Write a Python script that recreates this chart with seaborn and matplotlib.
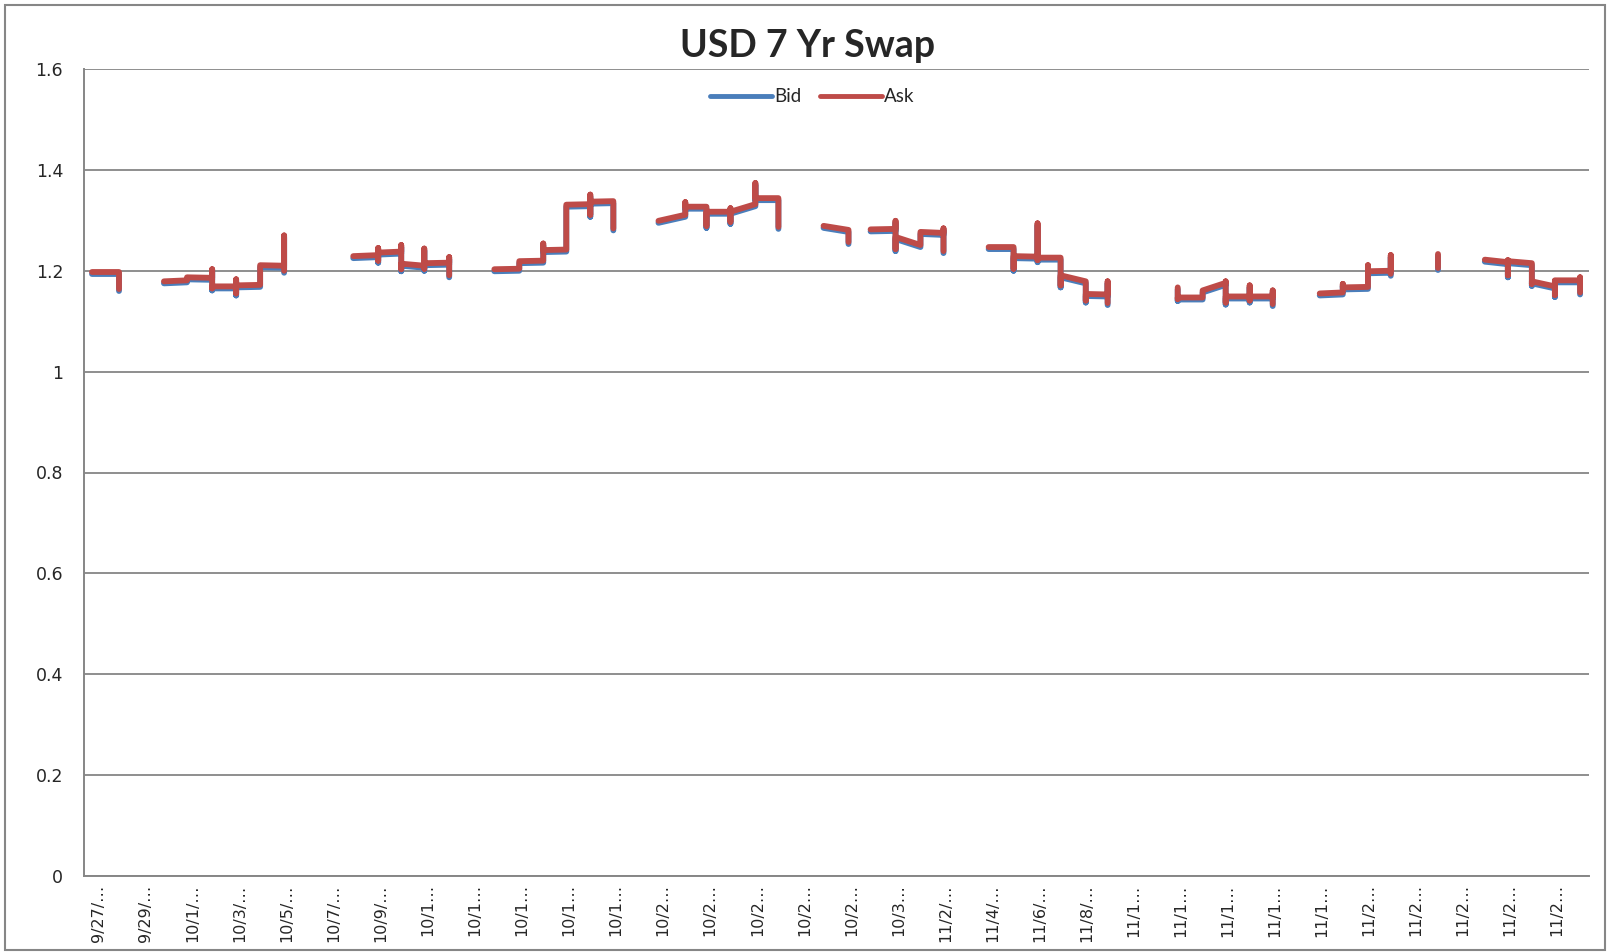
import numpy as np
import pandas as pd
import matplotlib
matplotlib.use("Agg")
import matplotlib.pyplot as plt
import seaborn as sns
from matplotlib.lines import Line2D
from matplotlib.patches import Rectangle

# ---------------- data ----------------
title = "USD 7 Yr Swap"
series_names = ["Bid", "Ask"]

x_tick_labels = ["9/27/…", "9/29/…", "10/1/…", "10/3/…", "10/5/…", "10/7/…", "10/9/…",
                 "10/1…", "10/1…", "10/1…", "10/1…", "10/1…",
                 "10/2…", "10/2…", "10/2…", "10/2…", "10/2…",
                 "10/3…", "11/2/…", "11/4/…", "11/6/…", "11/8/…",
                 "11/1…", "11/1…", "11/1…", "11/1…", "11/1…",
                 "11/2…", "11/2…", "11/2…", "11/2…", "11/2…"]
y_ticks = [0, 0.2, 0.4, 0.6, 0.8, 1.0, 1.2, 1.4, 1.6]
y_tick_labels = ["0", "0.2", "0.4", "0.6", "0.8", "1", "1.2", "1.4", "1.6"]

nan = np.nan
# position along the axis, in days from the first category (NaN = gap in the data)
day = [0.34, 1.49, 1.49, nan,
       3.40, 4.38, 4.38, 5.45, 5.45, 5.45, 5.45, 6.47, 6.47, 6.47, 6.47, 7.49, 7.49, 8.51, 8.51, 8.51, nan,
       11.45, 12.51, 12.51, 12.51, 12.51, 13.49, 13.49, 13.49, 13.49, 14.47, 14.47, 14.47, 14.47, 15.53, 15.53, 15.53, nan,
       17.45, 18.51, 18.51, 19.53, 19.53, 19.53, 20.51, 20.51, 21.53, 21.53, 21.53, 21.53, 22.51, 22.51, nan,
       24.43, 25.57, 25.57, 25.57, 26.47, 26.47, 26.47, 27.49, 27.49, 27.49, 27.49, 28.55, 28.55, 28.55, 29.53, 29.53, nan,
       31.45, 32.51, 32.51, nan,
       33.45, 34.51, 34.51, 34.51, 34.51, 35.57, 35.57, 36.55, 36.55, 36.55, nan,
       38.47, 39.53, 39.53, 39.53, 40.55, 40.55, 40.55, 40.55, 41.53, 41.53, 41.53, 42.60, 42.60, 42.60, 43.53, 43.53, 43.53, nan,
       46.51, 46.51, 46.51, 47.57, 47.57, 48.55, 48.55, 48.55, 48.55, 49.57, 49.57, 49.57, 49.57, 50.55, 50.55, 50.55, nan,
       52.55, 53.53, 53.53, 53.53, 54.60, 54.60, 54.60, 55.57, 55.57, 55.57, nan,
       57.57, 57.57, nan,
       59.57, 60.55, 60.55, 60.55, 60.55, 61.57, 61.57, 61.57, 62.55, 62.55, 62.55, 62.55, 63.62, 63.62, 63.62]

ask = [1.198, 1.198, 1.163, nan,
       1.179, 1.181, 1.187, 1.186, 1.203, 1.165, 1.169, 1.169, 1.183, 1.155, 1.171, 1.172, 1.211, 1.210, 1.270, 1.200, nan,
       1.229, 1.231, 1.245, 1.220, 1.236, 1.238, 1.251, 1.203, 1.214, 1.210, 1.244, 1.204, 1.215, 1.216, 1.227, 1.191, nan,
       1.203, 1.204, 1.219, 1.220, 1.254, 1.241, 1.242, 1.331, 1.332, 1.351, 1.311, 1.337, 1.338, 1.284, nan,
       1.299, 1.311, 1.336, 1.327, 1.327, 1.289, 1.317, 1.317, 1.324, 1.297, 1.317, 1.332, 1.374, 1.344, 1.344, 1.287, nan,
       1.289, 1.281, 1.257, nan,
       1.282, 1.283, 1.299, 1.243, 1.267, 1.251, 1.277, 1.275, 1.284, 1.239, nan,
       1.247, 1.247, 1.204, 1.229, 1.228, 1.294, 1.221, 1.226, 1.226, 1.171, 1.191, 1.179, 1.141, 1.154, 1.153, 1.179, 1.136, nan,
       1.167, 1.144, 1.147, 1.147, 1.161, 1.176, 1.179, 1.137, 1.149, 1.149, 1.171, 1.141, 1.149, 1.149, 1.161, 1.134, nan,
       1.155, 1.157, 1.174, 1.167, 1.168, 1.211, 1.199, 1.200, 1.231, 1.194, nan,
       1.234, 1.205, nan,
       1.222, 1.217, 1.221, 1.191, 1.219, 1.215, 1.174, 1.179, 1.169, 1.180, 1.152, 1.181, 1.181, 1.187, 1.157]

bid = [1.194, 1.194, 1.159, nan,
       1.175, 1.177, 1.183, 1.182, 1.199, 1.161, 1.165, 1.165, 1.179, 1.151, 1.167, 1.168, 1.207, 1.206, 1.266, 1.196, nan,
       1.225, 1.227, 1.241, 1.216, 1.232, 1.234, 1.247, 1.199, 1.210, 1.206, 1.240, 1.200, 1.211, 1.212, 1.223, 1.187, nan,
       1.199, 1.200, 1.215, 1.216, 1.250, 1.237, 1.238, 1.327, 1.328, 1.347, 1.307, 1.333, 1.334, 1.280, nan,
       1.295, 1.307, 1.332, 1.323, 1.323, 1.285, 1.313, 1.313, 1.320, 1.293, 1.313, 1.328, 1.370, 1.340, 1.340, 1.283, nan,
       1.285, 1.277, 1.253, nan,
       1.278, 1.279, 1.295, 1.239, 1.263, 1.247, 1.273, 1.271, 1.280, 1.235, nan,
       1.243, 1.243, 1.200, 1.225, 1.224, 1.290, 1.217, 1.222, 1.222, 1.167, 1.187, 1.175, 1.137, 1.150, 1.149, 1.175, 1.132, nan,
       1.163, 1.140, 1.143, 1.143, 1.157, 1.172, 1.175, 1.133, 1.145, 1.145, 1.167, 1.137, 1.145, 1.145, 1.157, 1.130, nan,
       1.151, 1.153, 1.170, 1.163, 1.164, 1.207, 1.195, 1.196, 1.227, 1.190, nan,
       1.230, 1.201, nan,
       1.218, 1.213, 1.217, 1.187, 1.215, 1.211, 1.170, 1.175, 1.165, 1.176, 1.148, 1.177, 1.177, 1.183, 1.153]

# ---------------- style ----------------
BID_COLOR = "#4A7EBB"
ASK_COLOR = "#BE4B48"
GRID = "#868686"

sns.set_style("white")
plt.rcParams["font.family"] = ["DejaVu Sans"]

fig = plt.figure(figsize=(16.10, 9.52), dpi=100)
W, H = 1610, 952
ax = fig.add_axes([84 / W, 1 - 876 / H, 1505 / W, 807 / H])

df = pd.DataFrame({"day": day, "bid": bid, "ask": ask})
df["segment"] = df["day"].isna().cumsum()
df = df.dropna()

common = dict(data=df, x="day", units="segment", estimator=None, sort=False, ax=ax,
              lw=4.2, solid_capstyle="round", solid_joinstyle="round", legend=False)
sns.lineplot(y="bid", color=BID_COLOR, **common)
sns.lineplot(y="ask", color=ASK_COLOR, **common)

ax.set_xlim(0, 64)
ax.set_ylim(0, 1.6)
ax.set_xlabel("")
ax.set_ylabel("")

ax.set_yticks(y_ticks)
ax.set_yticklabels(y_tick_labels, fontsize=12.5)
ax.yaxis.grid(True, color=GRID, lw=1.3)
ax.set_axisbelow(True)

major = np.arange(0, 65, 2)
ax.set_xticks(major)
ax.set_xticklabels([])
ax.set_xticks(major[:-1] + 0.63, minor=True)
ax.set_xticklabels(x_tick_labels, minor=True, rotation=90, fontsize=11.5, va="top", ha="center")
ax.tick_params(axis="x", which="major", length=5, width=1.2, color=GRID, direction="out")
ax.tick_params(axis="x", which="minor", length=0, pad=6)
ax.tick_params(axis="y", length=6, width=1.2, color=GRID, direction="out", pad=9)

for s in ["top", "right"]:
    ax.spines[s].set_visible(False)
for s in ["left", "bottom"]:
    ax.spines[s].set_color(GRID)
    ax.spines[s].set_linewidth(1.4)

fig.text(808 / W, 1 - 46 / H, title, ha="center", va="center", fontsize=27,
         fontweight="bold", family=["Lato", "DejaVu Sans"])

handles = [Line2D([0], [0], color=BID_COLOR, lw=3.5),
           Line2D([0], [0], color=ASK_COLOR, lw=3.5)]
ax.legend(handles, series_names, loc="center", bbox_to_anchor=((812 - 84) / 1505, (876 - 97) / 807),
          ncol=2, frameon=False, handlelength=3.3, handletextpad=0.1, columnspacing=1.0,
          prop={"family": ["Lato", "DejaVu Sans"], "size": 13.5})

fig.patches.append(Rectangle((0.003, 0.002), 0.994, 0.993, transform=fig.transFigure,
                             fill=False, ec=GRID, lw=1.5))

fig.savefig("out.png", dpi=100)
